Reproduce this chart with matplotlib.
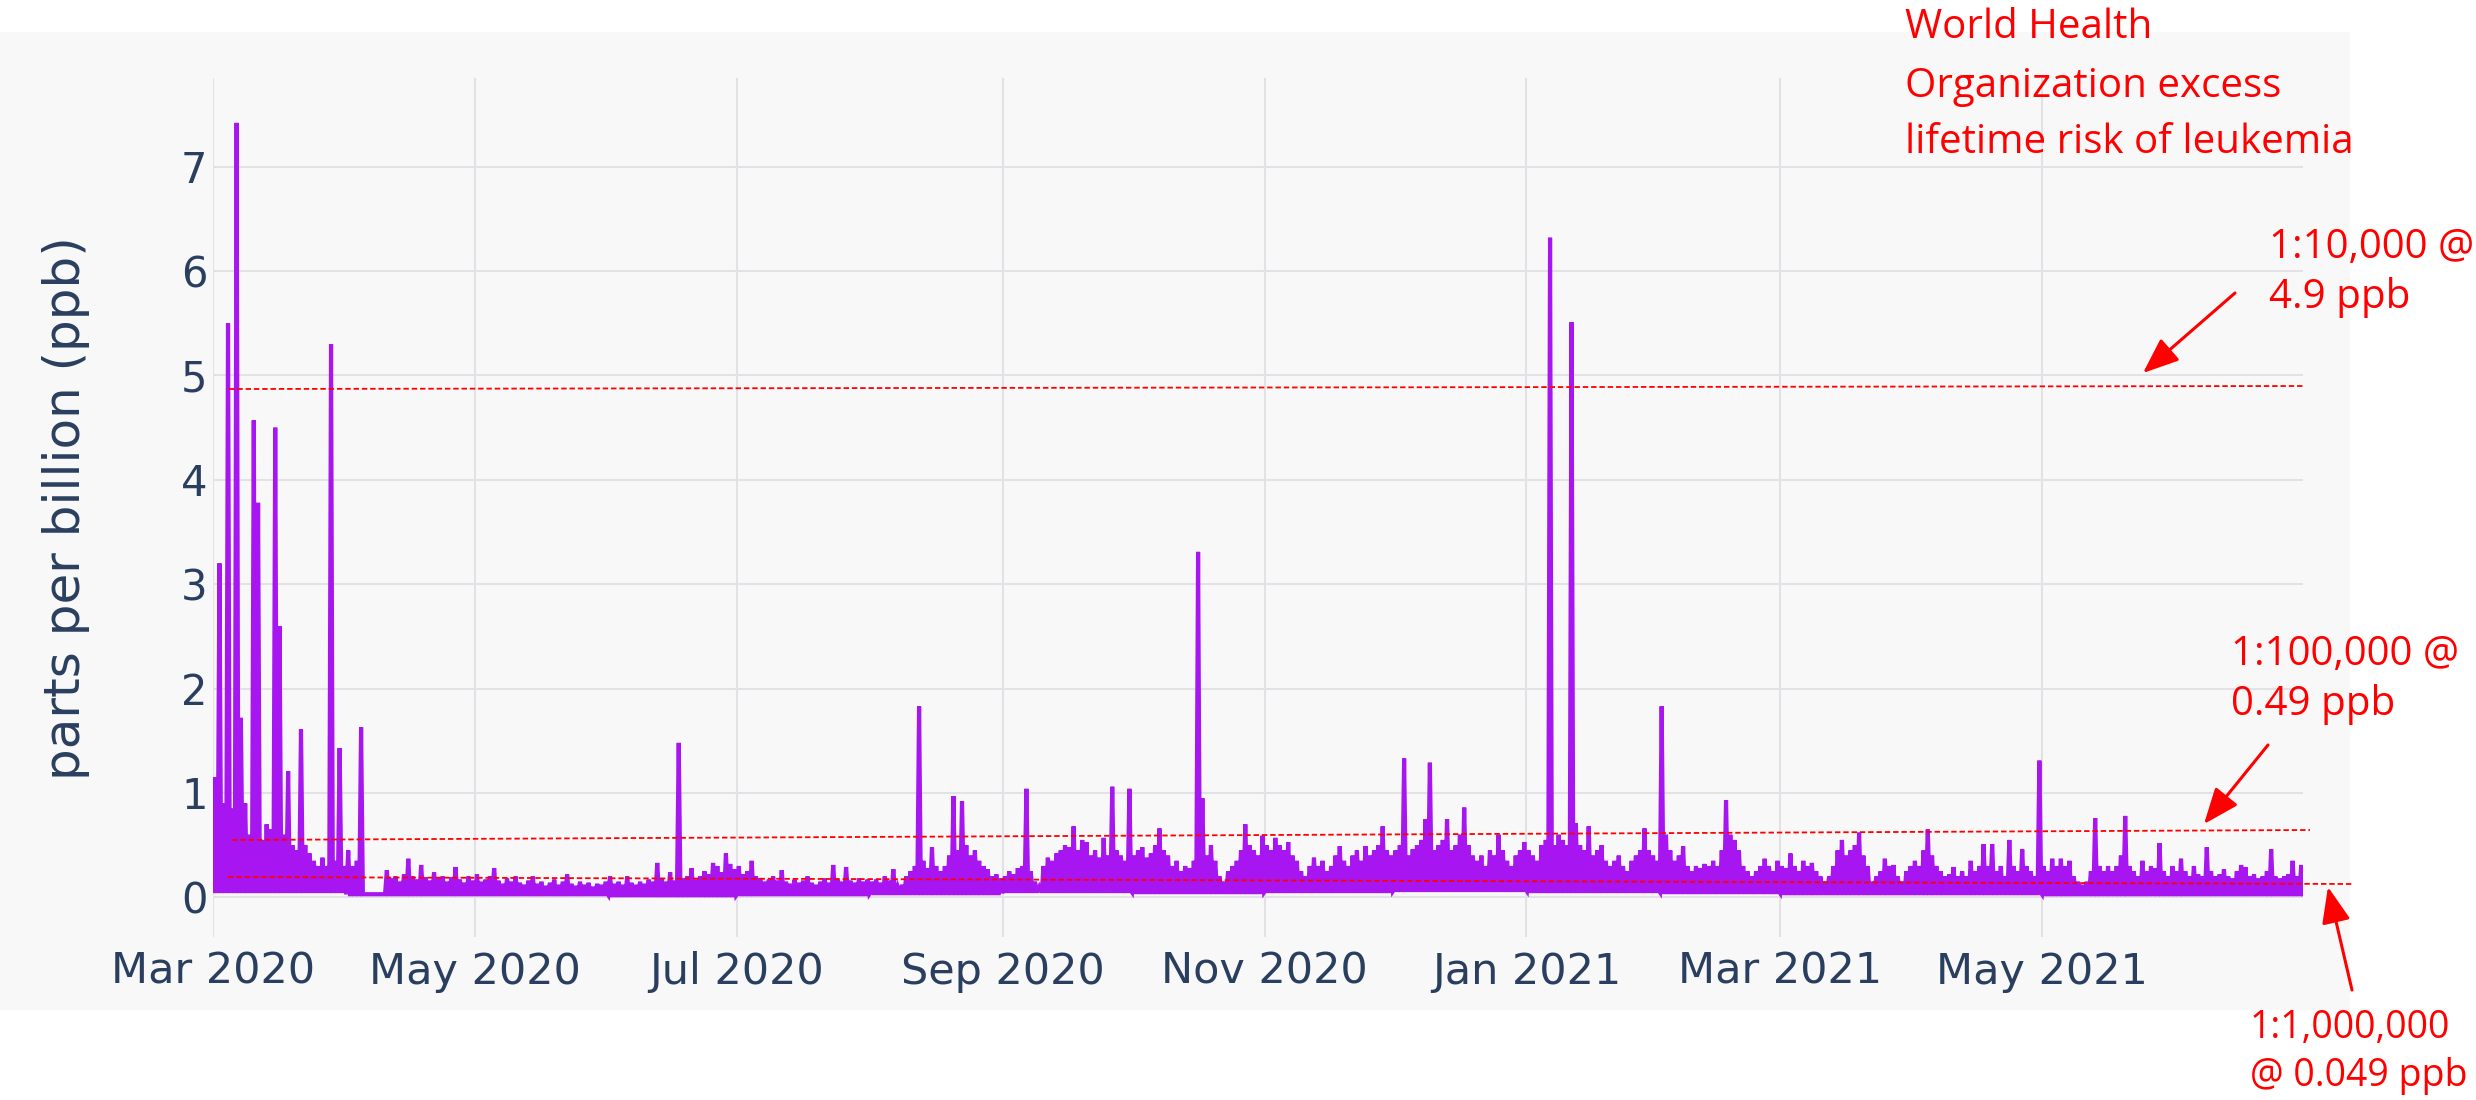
import matplotlib
matplotlib.use("Agg")
import matplotlib.pyplot as plt
import matplotlib.dates as mdates
import pandas as pd
from matplotlib.lines import Line2D
from matplotlib.patches import FancyArrowPatch, Rectangle

# daily peak readings in ppb (None = no data)
mar_2020 = [1.15, 3.2, 0.9, 5.5, 0.85, 7.42, 1.72, 0.9, 0.6, 4.57, 3.78, 0.55, 0.7, 0.65, 4.5, 2.6,
            0.6, 1.21, 0.5, 0.45, 1.61, 0.5, 0.42, 0.35, 0.3, 0.38, 0.3, 5.3, 0.35, 1.43, 0.3]
apr_2020 = [0.45, 0.3, 0.35, 1.63, None, None, None, None, None, 0.26, 0.18, 0.2, 0.15, 0.22, 0.37,
            0.2, 0.17, 0.31, 0.19, 0.16, 0.24, 0.18, 0.2, 0.15, 0.19, 0.29, 0.17, 0.14, 0.2, 0.16]
may_2020 = [0.22, 0.15, 0.17, 0.2, 0.28, 0.16, 0.13, 0.18, 0.15, 0.2, 0.14, 0.12, 0.16, 0.2, 0.13, 0.15,
            0.11, 0.14, 0.17, 0.12, 0.15, 0.22, 0.13, 0.11, 0.15, 0.12, 0.14, 0.1, 0.13, 0.12, 0.15]
jun_2020 = [0.2, 0.13, 0.15, 0.12, 0.2, 0.14, 0.12, 0.15, 0.13, 0.17, 0.15, 0.33, 0.18, 0.15, 0.24,
            0.16, 1.48, 0.18, 0.2, 0.28, 0.17, 0.2, 0.25, 0.22, 0.33, 0.3, 0.24, 0.42, 0.32, 0.27]
jul_2020 = [0.3, 0.22, 0.25, 0.35, 0.2, 0.18, 0.15, 0.17, 0.2, 0.16, 0.26, 0.15, 0.13, 0.17, 0.14, 0.16,
            0.2, 0.14, 0.12, 0.15, 0.18, 0.14, 0.31, 0.17, 0.15, 0.29, 0.16, 0.14, 0.18, 0.15, 0.17]
aug_2020 = [0.15, 0.17, 0.14, 0.2, 0.16, 0.27, 0.1, 0.12, 0.2, 0.25, 0.3, 1.83, 0.35, 0.28, 0.48, 0.3,
            0.25, 0.3, 0.4, 0.97, 0.45, 0.92, 0.5, 0.4, 0.45, 0.35, 0.3, 0.27, 0.2, 0.22, 0.18]
sep_2020 = [0.2, 0.25, 0.22, 0.28, 0.3, 1.04, 0.25, 0.15, 0.1, 0.3, 0.38, 0.35, 0.42, 0.45, 0.5,
            0.48, 0.68, 0.45, 0.55, 0.53, 0.4, 0.45, 0.38, 0.57, 0.4, 1.06, 0.45, 0.4, 0.35, 1.04]
oct_2020 = [0.4, 0.45, 0.48, 0.38, 0.42, 0.5, 0.66, 0.45, 0.4, 0.3, 0.35, 0.25, 0.3, 0.28, 0.35, 3.31,
            0.95, 0.4, 0.5, 0.35, 0.2, 0.15, 0.25, 0.3, 0.35, 0.45, 0.7, 0.5, 0.45, 0.4, 0.59]
nov_2020 = [0.5, 0.45, 0.57, 0.5, 0.45, 0.53, 0.4, 0.35, 0.25, 0.2, 0.3, 0.38, 0.3, 0.35, 0.25,
            0.3, 0.4, 0.49, 0.35, 0.3, 0.4, 0.45, 0.35, 0.49, 0.4, 0.45, 0.5, 0.68, 0.45, 0.4]
dec_2020 = [0.45, 0.5, 1.33, 0.4, 0.46, 0.5, 0.55, 0.75, 1.29, 0.45, 0.5, 0.55, 0.75, 0.45, 0.5, 0.6,
            0.86, 0.5, 0.4, 0.35, 0.4, 0.3, 0.45, 0.4, 0.6, 0.45, 0.35, 0.3, 0.4, 0.45, 0.53]
jan_2021 = [0.45, 0.4, 0.35, 0.5, 0.55, 6.32, 0.5, 0.6, 0.55, 0.5, 5.51, 0.71, 0.5, 0.45, 0.68, 0.4,
            0.45, 0.5, 0.35, 0.3, 0.35, 0.4, 0.3, 0.25, 0.35, 0.4, 0.45, 0.66, 0.45, 0.4, 0.35]
feb_2021 = [1.83, 0.6, 0.45, 0.35, 0.4, 0.49, 0.3, 0.25, 0.3, 0.28, 0.32, 0.3, 0.35, 0.3,
            0.45, 0.93, 0.6, 0.55, 0.45, 0.3, 0.25, 0.2, 0.25, 0.3, 0.37, 0.3, 0.25, 0.35]
mar_2021 = [0.3, 0.28, 0.42, 0.3, 0.25, 0.35, 0.3, 0.33, 0.25, 0.2, 0.15, 0.2, 0.3, 0.45, 0.55, 0.4,
            0.45, 0.5, 0.62, 0.4, 0.3, 0.15, 0.2, 0.25, 0.37, 0.3, 0.31, 0.2, 0.15, 0.25, 0.3]
apr_2021 = [0.35, 0.3, 0.45, 0.65, 0.4, 0.3, 0.25, 0.2, 0.22, 0.29, 0.2, 0.25, 0.2, 0.35, 0.25,
            0.3, 0.51, 0.3, 0.51, 0.25, 0.3, 0.2, 0.55, 0.3, 0.25, 0.46, 0.3, 0.25, 0.2, 1.31]
may_2021 = [0.3, 0.25, 0.37, 0.3, 0.37, 0.3, 0.35, 0.2, 0.15, 0.12, 0.15, 0.25, 0.76, 0.3, 0.25, 0.3,
            0.25, 0.3, 0.4, 0.78, 0.3, 0.25, 0.2, 0.35, 0.25, 0.3, 0.28, 0.52, 0.25, 0.2, 0.3]
jun_2021 = [0.25, 0.37, 0.25, 0.2, 0.3, 0.22, 0.2, 0.48, 0.25, 0.2, 0.22, 0.27, 0.2, 0.18, 0.25,
            0.31, 0.29, 0.2, 0.22, 0.18, 0.2, 0.25, 0.46, 0.2, 0.18, 0.2, 0.22, 0.35, 0.2, 0.31]

month_starts = ["2020-03-01", "2020-04-01", "2020-05-01", "2020-06-01", "2020-07-01", "2020-08-01",
                "2020-09-01", "2020-10-01", "2020-11-01", "2020-12-01", "2021-01-01", "2021-02-01",
                "2021-03-01", "2021-04-01", "2021-05-01", "2021-06-01"]
month_peaks = [mar_2020, apr_2020, may_2020, jun_2020, jul_2020, aug_2020, sep_2020, oct_2020,
               nov_2020, dec_2020, jan_2021, feb_2021, mar_2021, apr_2021, may_2021, jun_2021]
# typical floor of the trace in each month
month_lows = [0.06, 0.03, 0.03, 0.02, 0.03, 0.04, 0.06, 0.05, 0.06, 0.07, 0.06, 0.05, 0.04, 0.04,
              0.03, 0.03]

y_ticks = [0, 1, 2, 3, 4, 5, 6, 7]

W, H = 2476, 1100


def fx(x):
    return x / W


def fy(y):
    return 1 - y / H


times = []
vals = []
for start, peaks, low in zip(month_starts, month_peaks, month_lows):
    d0 = pd.Timestamp(start)
    for i, p in enumerate(peaks):
        if p is None:
            continue
        t = d0 + pd.Timedelta(days=i)
        times += [t + pd.Timedelta(hours=2), t + pd.Timedelta(hours=12), t + pd.Timedelta(hours=22)]
        vals += [low, p, low]

fig = plt.figure(figsize=(W / 100, H / 100), dpi=100)
fig.patch.set_facecolor("white")
fig.add_artist(Rectangle((fx(0), fy(1010)), fx(2350), fy(32) - fy(1010),
                         transform=fig.transFigure, facecolor="#f8f8f8", edgecolor="none", zorder=0))

ax = fig.add_axes([fx(213), fy(937), fx(2303) - fx(213), fy(78) - fy(937)])
ax.set_facecolor("none")
ax.plot(times, vals, color="#a716f0", lw=3.0, solid_joinstyle="miter", zorder=3)

ax.set_xlim(pd.Timestamp("2020-03-01"), times[-1])
ax.set_ylim(-0.38, 7.85)
ax.set_yticks(y_ticks)
ax.xaxis.set_major_locator(mdates.MonthLocator(bymonth=[1, 3, 5, 7, 9, 11]))
ax.xaxis.set_major_formatter(mdates.DateFormatter("%b %Y"))
ax.grid(True, color="#e2e2e6", lw=1.5)
ax.set_axisbelow(True)
for s in ax.spines.values():
    s.set_visible(False)
ax.tick_params(axis="y", length=0, pad=4, labelsize=30, labelcolor="#2a3f5f")
ax.tick_params(axis="x", length=0, pad=10, labelsize=31, labelcolor="#2a3f5f")

fig.text(fx(66), fy(508), "parts per billion (ppb)", rotation=90, ha="center", va="center",
         fontsize=36, color="#2a3f5f")

# red overlay annotations
red = "#ff0000"
dash = (0, (3, 1.6))
for (x1, y1, x2, y2) in [(229, 389, 2305, 386), (232, 840, 2310, 830), (228, 877, 2353, 884)]:
    fig.add_artist(Line2D([fx(x1), fx(x2)], [fy(y1), fy(y2)], transform=fig.transFigure,
                          color=red, lw=1.3, linestyle=dash, zorder=5))

for (x1, y1, x2, y2) in [(2235, 293, 2143, 373), (2268, 745, 2204, 824), (2352, 990, 2328, 887)]:
    fig.add_artist(FancyArrowPatch((fx(x1), fy(y1)), (fx(x2), fy(y2)), transform=fig.transFigure,
                                   arrowstyle="-|>,head_length=1.0,head_width=0.4", mutation_scale=22,
                                   color=red, lw=2.2, shrinkA=0, shrinkB=0, zorder=6))

tfont = dict(family=["Open Sans", "DejaVu Sans"], fontsize=29, color=red, ha="left", va="baseline")
for (x, y, s) in [(1905, 38, "World Health"), (1905, 97, "Organization excess"),
                  (1905, 153, "lifetime risk of leukemia"),
                  (2269, 258, "1:10,000 @"), (2269, 308, "4.9 ppb"),
                  (2231, 665, "1:100,000 @"), (2231, 715, "0.49 ppb")]:
    fig.text(fx(x), fy(y), s, **tfont)
tfont["fontsize"] = 27
for (x, y, s) in [(2250, 1038, "1:1,000,000"), (2250, 1086, "@ 0.049 ppb")]:
    fig.text(fx(x), fy(y), s, **tfont)

fig.savefig("out.png", dpi=100)
